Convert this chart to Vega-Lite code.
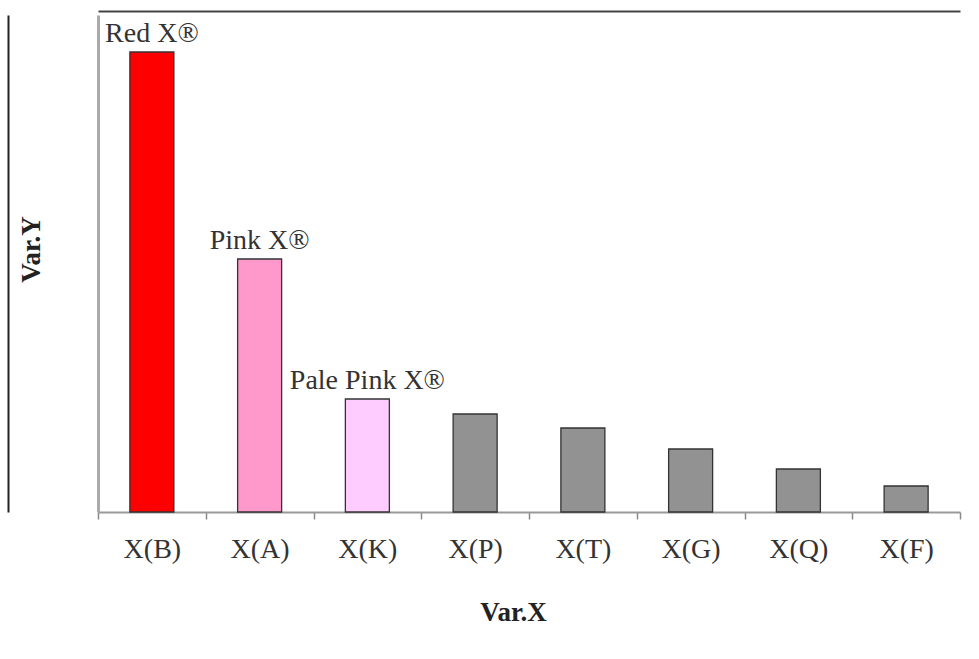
{
  "$schema": "https://vega.github.io/schema/vega-lite/v6.json",
  "autosize": "none",
  "width": 862,
  "height": 497,
  "padding": {"left": 98, "top": 15, "right": 19, "bottom": 147},
  "background": "white",
  "config": {"view": {"stroke": null}, "font": "Liberation Serif"},
  "data": {"values": [
    {"cat": "X(B)", "val": 460, "note": "Red X®", "grp": "red"},
    {"cat": "X(A)", "val": 253, "note": "Pink X®", "grp": "pink"},
    {"cat": "X(K)", "val": 113, "note": "Pale Pink X®", "grp": "pale"},
    {"cat": "X(P)", "val": 98, "note": "", "grp": "gray"},
    {"cat": "X(T)", "val": 84, "note": "", "grp": "gray"},
    {"cat": "X(G)", "val": 63, "note": "", "grp": "gray"},
    {"cat": "X(Q)", "val": 43, "note": "", "grp": "gray"},
    {"cat": "X(F)", "val": 26, "note": "", "grp": "gray"}
  ]},
  "encoding": {
    "x": {"field": "cat", "type": "nominal", "sort": null, "scale": {"paddingInner": 0, "paddingOuter": 0}},
    "y": {"field": "val", "type": "quantitative", "scale": {"domain": [0, 497], "nice": false}}
  },
  "layer": [
    {
      "mark": {"type": "bar", "size": 44, "stroke": "#333333", "strokeWidth": 1.3},
      "encoding": {
        "color": {"field": "grp", "type": "nominal", "legend": null,
          "scale": {"domain": ["red", "pink", "pale", "gray"], "range": ["#FF0000", "#FF99CC", "#FFCCFF", "#929292"]}},
        "x": {"field": "cat", "type": "nominal", "sort": null,
          "axis": {"orient": "bottom", "title": "Var.X", "labelAngle": 0, "tickBand": "extent",
            "domainColor": "#999999", "domainWidth": 2, "tickColor": "#888888", "tickWidth": 1.5, "tickSize": 7,
            "labelFont": "Liberation Serif", "labelFontSize": 28, "labelColor": "#333333", "labelPadding": 16,
            "titleFont": "Liberation Serif", "titleFontSize": 27, "titleFontWeight": "bold", "titleColor": "#222222",
            "titleX": 415, "titleY": 108, "titleBaseline": "alphabetic", "titleAnchor": "middle", "titleAlign": "center"}},
        "y": {"field": "val", "type": "quantitative",
          "axis": {"orient": "left", "title": "Var.Y", "labels": false, "ticks": false, "grid": false,
            "domainColor": "#aaaaaa", "domainWidth": 3,
            "titleFont": "Liberation Serif", "titleFontSize": 27, "titleFontWeight": "bold", "titleColor": "#222222",
            "titleAngle": -90, "titleX": -67, "titleY": 234, "titleBaseline": "middle", "titleAlign": "center"}}
      }
    },
    {
      "mark": {"type": "text", "baseline": "alphabetic", "dy": -10, "font": "Liberation Serif", "fontSize": 28, "color": "#333333"},
      "encoding": {
        "text": {"field": "note"},
        "x": {"field": "cat", "type": "nominal", "sort": null,
          "axis": {"orient": "top", "title": null, "labels": false, "ticks": false, "domainColor": "#444444", "domainWidth": 2, "offset": 4}},
        "y": {"field": "val", "type": "quantitative",
          "axis": {"orient": "left", "title": null, "labels": false, "ticks": false, "grid": false, "domainColor": "#222222", "domainWidth": 2, "offset": 90}}
      }
    }
  ],
  "resolve": {"axis": {"x": "independent", "y": "independent"}}
}
